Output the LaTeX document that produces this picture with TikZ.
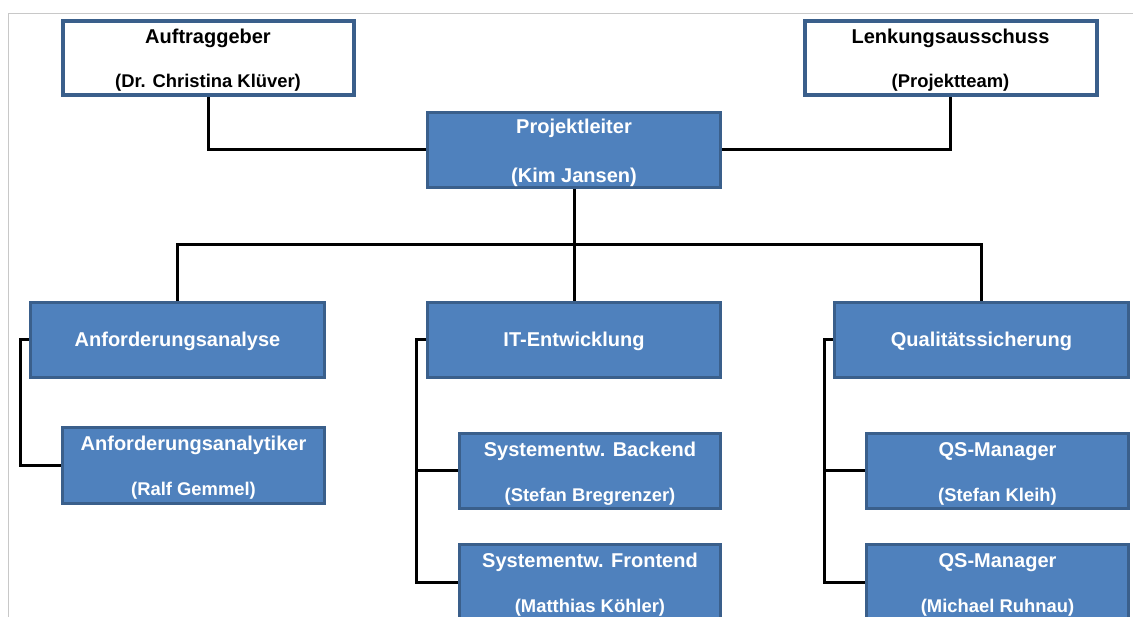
\documentclass[tikz,border=0pt]{standalone}
\usepackage{fontspec}
\setmainfont{Liberation Sans}
\definecolor{boxfill}{HTML}{4F81BD}
\definecolor{boxline}{HTML}{3A5F8B}
\definecolor{framegray}{HTML}{C8C8C8}
\begin{document}
\begin{tikzpicture}[x=1pt,y=-1pt,
  basebox/.style={rectangle,inner sep=0pt},
  whitebox/.style={basebox,draw=boxline,line width=4pt,fill=white},
  bluebox/.style={basebox,draw=boxline,line width=3pt,fill=boxfill},
  ttl/.style={anchor=base,inner sep=0pt,font={\fontsize{20}{24}\selectfont\bfseries}},
  sub/.style={anchor=base,inner sep=0pt,font={\fontsize{18.4}{22}\selectfont\bfseries}},
  onblue/.style={text=white},
  onwhite/.style={text=black},
  conn/.style={black,line width=3pt}]
\useasboundingbox (0,0) rectangle (1133,617);
\draw[framegray,line width=1pt] (8,617) -- (8,14) -- (1133,14);
% top level
\node[whitebox,minimum width=291pt,minimum height=74pt] (auf) at (208,58.5) {};
\node[ttl,onwhite] (auf1) at ([yshift=-24pt]auf.north) {Auftraggeber};
\node[sub,onwhite] (auf2) at ([yshift=-68.5pt]auf.north) {(Dr. Christina Klüver)};
\node[whitebox,minimum width=292pt,minimum height=74pt] (lenk) at (950.5,58.5) {};
\node[ttl,onwhite] (lenk1) at ([yshift=-24pt]lenk.north) {Lenkungsausschuss};
\node[sub,onwhite] (lenk2) at ([yshift=-68.5pt]lenk.north) {(Projektteam)};
\node[bluebox,minimum width=293pt,minimum height=75pt] (pl) at (574,150) {};
\node[ttl,onblue] (pl1) at ([yshift=-22.5pt]pl.north) {Projektleiter};
\node[ttl,onblue] (pl2) at ([yshift=-71.5pt]pl.north) {(Kim Jansen)};
% second level
\node[bluebox,minimum width=294pt,minimum height=75pt] (anf) at (177.5,340) {};
\node[ttl,onblue] (anf1) at ([yshift=-46pt]anf.north) {Anforderungsanalyse};
\node[bluebox,minimum width=293pt,minimum height=75pt] (it) at (574,340) {};
\node[ttl,onblue] (it1) at ([yshift=-46pt]it.north) {IT-Entwicklung};
\node[bluebox,minimum width=294pt,minimum height=75pt] (qs) at (981.5,340) {};
\node[ttl,onblue] (qs0) at ([yshift=-46pt]qs.north) {Qualitätssicherung};
% third level
\node[bluebox,minimum width=262pt,minimum height=75pt] (ana) at (193.5,465.5) {};
\node[ttl,onblue] (ana1) at ([yshift=-24.5pt]ana.north) {Anforderungsanalytiker};
\node[sub,onblue] (ana2) at ([yshift=-69.5pt]ana.north) {(Ralf Gemmel)};
\node[bluebox,minimum width=261pt,minimum height=75pt] (be) at (590,471) {};
\node[ttl,onblue] (be1) at ([yshift=-24.5pt]be.north) {Systementw. Backend};
\node[sub,onblue] (be2) at ([yshift=-69.5pt]be.north) {(Stefan Bregrenzer)};
\node[bluebox,minimum width=261pt,minimum height=75pt] (fe) at (590,582) {};
\node[ttl,onblue] (fe1) at ([yshift=-24.5pt]fe.north) {Systementw. Frontend};
\node[sub,onblue] (fe2) at ([yshift=-69.5pt]fe.north) {(Matthias Köhler)};
\node[bluebox,minimum width=262pt,minimum height=75pt] (qsa) at (997.5,471) {};
\node[ttl,onblue] (qsa1) at ([yshift=-24.5pt]qsa.north) {QS-Manager};
\node[sub,onblue] (qsa2) at ([yshift=-69.5pt]qsa.north) {(Stefan Kleih)};
\node[bluebox,minimum width=262pt,minimum height=75pt] (qsb) at (997.5,582) {};
\node[ttl,onblue] (qsb1) at ([yshift=-24.5pt]qsb.north) {QS-Manager};
\node[sub,onblue] (qsb2) at ([yshift=-69.5pt]qsb.north) {(Michael Ruhnau)};
% connectors
\coordinate (bus) at (574,245);
\draw[conn] (auf.south) |- (pl.west);
\draw[conn] (lenk.south) |- (pl.east);
\draw[conn] (pl.south) -- (bus);
\draw[conn] (anf.north) |- (bus) -| (qs.north);
\draw[conn] (bus) -- (it.north);
\coordinate (anfx) at ([xshift=-9pt]anf.west);
\draw[conn] (anf.west) -- (anfx) |- (ana.west);
\coordinate (itx) at ([xshift=-10pt]it.west);
\draw[conn] (it.west) -- (itx) |- (fe.west);
\draw[conn] (itx) |- (be.west);
\coordinate (qsx) at ([xshift=-9pt]qs.west);
\draw[conn] (qs.west) -- (qsx) |- (qsb.west);
\draw[conn] (qsx) |- (qsa.west);
\end{tikzpicture}
\end{document}
